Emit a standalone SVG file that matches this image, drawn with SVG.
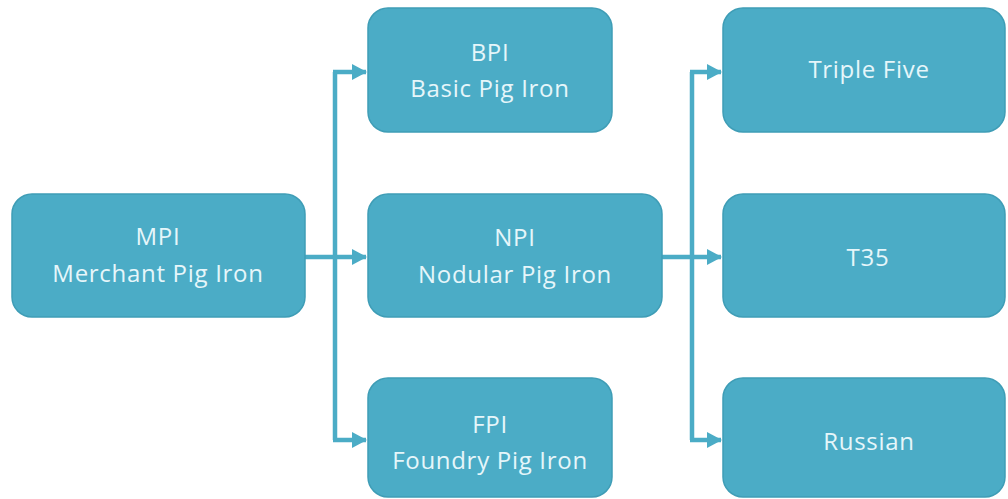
<svg xmlns="http://www.w3.org/2000/svg" width="1008" height="499" viewBox="0 0 1008 499">
<style>
.box{fill:#4BACC6;stroke:#3F9DB6;stroke-width:1.5}
.t{font-family:"Open Sans","Liberation Sans",sans-serif;font-size:24px;letter-spacing:0.7px;fill:#E6F6FA;text-anchor:middle}
.c{fill:none;stroke:#4BACC6;stroke-width:4.5}
</style>
<defs>
<marker id="ah" markerUnits="userSpaceOnUse" markerWidth="16" markerHeight="16" refX="14" refY="8" orient="auto">
<path d="M0,0 L15,8 L0,16 z" fill="#4BACC6"/>
</marker>
</defs>
<rect width="1008" height="499" fill="#FFFFFF"/>
<g id="connectors">
<path class="c" d="M305,257 H366" marker-end="url(#ah)"/>
<path class="c" d="M335,72 V440"/>
<path class="c" d="M333,72 H366" marker-end="url(#ah)"/>
<path class="c" d="M333,440 H366" marker-end="url(#ah)"/>
<path class="c" d="M662,257 H721" marker-end="url(#ah)"/>
<path class="c" d="M692,72 V440"/>
<path class="c" d="M690,72 H721" marker-end="url(#ah)"/>
<path class="c" d="M690,440 H721" marker-end="url(#ah)"/>
</g>
<g id="mpi">
<rect class="box" x="12" y="194" width="293" height="123" rx="20"/>
<text class="t" x="158" y="245">MPI</text>
<text class="t" x="158" y="282">Merchant Pig Iron</text>
</g>
<g id="bpi">
<rect class="box" x="368" y="8" width="244" height="124" rx="20"/>
<text class="t" x="490" y="61">BPI</text>
<text class="t" x="490" y="97">Basic Pig Iron</text>
</g>
<g id="npi">
<rect class="box" x="368" y="194" width="294" height="123" rx="20"/>
<text class="t" x="515" y="246">NPI</text>
<text class="t" x="515" y="283">Nodular Pig Iron</text>
</g>
<g id="fpi">
<rect class="box" x="368" y="378" width="244" height="119" rx="20"/>
<text class="t" x="490" y="433">FPI</text>
<text class="t" x="490" y="469">Foundry Pig Iron</text>
</g>
<g id="triple-five">
<rect class="box" x="723" y="8" width="282" height="124" rx="20"/>
<text class="t" x="869" y="78">Triple Five</text>
</g>
<g id="t35">
<rect class="box" x="723" y="194" width="282" height="123" rx="20"/>
<text class="t" x="868" y="266">T35</text>
</g>
<g id="russian">
<rect class="box" x="723" y="378" width="282" height="119" rx="20"/>
<text class="t" x="869" y="450">Russian</text>
</g>
</svg>
